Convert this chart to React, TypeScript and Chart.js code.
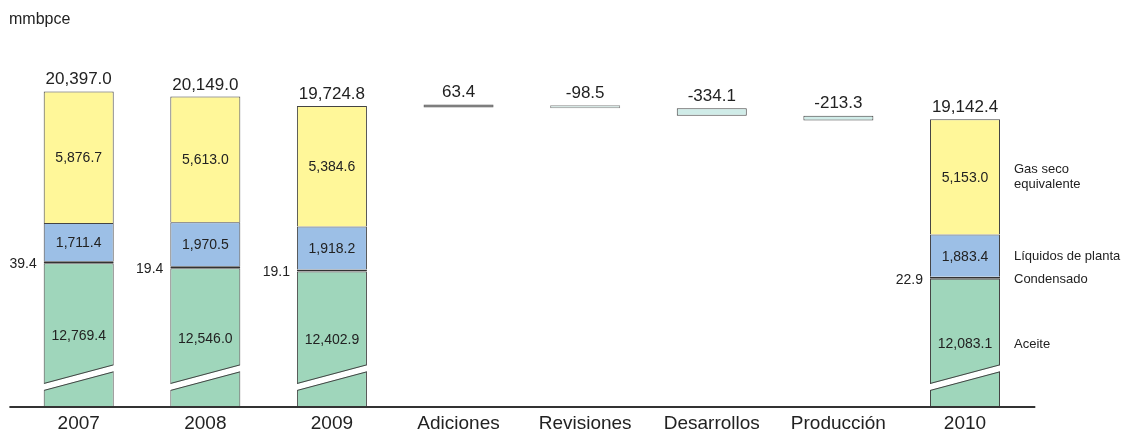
import React, { useEffect, useRef } from 'react';
import { Chart, registerables } from 'chart.js';

Chart.register(...registerables);

const FONT = '"Liberation Sans", Arial, Helvetica, sans-serif';

const categories = ['2007', '2008', '2009', 'Adiciones', 'Revisiones', 'Desarrollos', 'Producción', '2010'];
const aceite = [12769.4, 12546.0, 12402.9, null, null, null, null, 12083.1];
const condensado = [39.4, 19.4, 19.1, null, null, null, null, 22.9];
const liquidos = [1711.4, 1970.5, 1918.2, null, null, null, null, 1883.4];
const gasSeco = [5876.7, 5613.0, 5384.6, null, null, null, null, 5153.0];
const totals = [20397.0, 20149.0, 19724.8, null, null, null, null, 19142.4];
const changes = [null, null, null, 63.4, -98.5, -334.1, -213.3, null];
const seriesNames = ['Aceite', 'Condensado', 'Líquidos de planta', 'Gas seco equivalente'];
const legendGasLines = ['Gas seco', 'equivalente'];
const unitLabel = 'mmbpce';

// floating bars for the variations, starting from the 2009 total
const startTotal = totals[2] as number;
const floating: ([number, number] | null)[] = (() => {
  let acc = startTotal;
  return changes.map((c) => {
    if (c == null) return null;
    const s = acc;
    acc = acc + c;
    return [s, acc];
  });
})();

const fmt = (v: number) =>
  v.toLocaleString('en-US', { minimumFractionDigits: 1, maximumFractionDigits: 1 });

const COLORS = {
  aceite: '#9fd6bb',
  condensado: '#333333',
  liquidos: '#9cbfe6',
  gas: '#fff799',
  border: '#444444',
  text: '#222222',
};
const wfFill = ['#555555', '#d3e8e4', '#d0ece8', '#d0ece8'];
const wfBorder = ['#555555', '#8a8a8a', '#444444', '#444444'];

const drawPlugin = {
  id: 'customDraw',
  afterDatasetsDraw(chart: any) {
    const { ctx, chartArea } = chart;
    const bottom = chartArea.bottom;
    ctx.save();

    // unit label
    ctx.fillStyle = COLORS.text;
    ctx.font = `16px ${FONT}`;
    ctx.textAlign = 'left';
    ctx.textBaseline = 'alphabetic';
    ctx.fillText(unitLabel, 9, 24);

    const metaWf = chart.getDatasetMeta(0);
    const metaAceite = chart.getDatasetMeta(1);
    const metaCond = chart.getDatasetMeta(2);
    const metaLiq = chart.getDatasetMeta(3);
    const metaGas = chart.getDatasetMeta(4);

    // axis break bands
    metaAceite.data.forEach((el: any, i: number) => {
      if (aceite[i] == null) return;
      const L = el.x - el.width / 2;
      const R = el.x + el.width / 2;
      const lo = (x: number) => bottom - (17 + (35.7 - 17) * (x - L) / (R - L));
      const up = (x: number) => bottom - (23 + (41.7 - 23) * (x - L) / (R - L));
      const x0 = L - 1.5, x1 = R + 2;
      ctx.fillStyle = '#ffffff';
      ctx.beginPath();
      ctx.moveTo(x0, lo(x0));
      ctx.lineTo(x1, lo(x1));
      ctx.lineTo(x1, up(x1));
      ctx.lineTo(x0, up(x0));
      ctx.closePath();
      ctx.fill();
      ctx.strokeStyle = COLORS.border;
      ctx.lineWidth = 1;
      ctx.beginPath();
      ctx.moveTo(L + 0.5, lo(L + 0.5) + 0.5);
      ctx.lineTo(R - 0.5, lo(R - 0.5) + 0.5);
      ctx.moveTo(L + 0.5, up(L + 0.5) - 0.5);
      ctx.lineTo(R - 0.5, up(R - 0.5) - 0.5);
      ctx.stroke();
    });

    // axis line
    ctx.strokeStyle = '#333333';
    ctx.lineWidth = 2;
    ctx.beginPath();
    ctx.moveTo(chartArea.left - 6, bottom);
    ctx.lineTo(chartArea.right + 7, bottom);
    ctx.stroke();

    // inner segment labels
    ctx.fillStyle = COLORS.text;
    ctx.font = `14px ${FONT}`;
    ctx.textAlign = 'center';
    const inner = (meta: any, values: (number | null)[]) => {
      meta.data.forEach((el: any, i: number) => {
        const v = values[i];
        if (v == null) return;
        const top = Math.min(el.y, el.base);
        const bot = Math.min(Math.max(el.y, el.base), bottom);
        const cy = (top + bot) / 2;
        ctx.fillText(fmt(v), el.x, cy + 5);
      });
    };
    inner(metaAceite, aceite);
    inner(metaLiq, liquidos);
    inner(metaGas, gasSeco);

    // condensado labels on the left
    ctx.textAlign = 'right';
    metaCond.data.forEach((el: any, i: number) => {
      const v = condensado[i];
      if (v == null) return;
      const cy = el.base;
      ctx.fillText(fmt(v), el.x - el.width / 2 - 7, cy + 5);
    });

    // totals on top
    ctx.font = `17px ${FONT}`;
    ctx.textAlign = 'center';
    metaGas.data.forEach((el: any, i: number) => {
      const t = totals[i];
      if (t == null) return;
      ctx.fillText(fmt(t), el.x, Math.min(el.y, el.base) - 7);
    });
    metaWf.data.forEach((el: any, i: number) => {
      const c = changes[i];
      if (c == null) return;
      ctx.fillText(fmt(c), el.x, Math.min(el.y, el.base) - 7.5);
    });

    // series names beside last bar
    const last = categories.length - 1;
    ctx.font = `13px ${FONT}`;
    ctx.textAlign = 'left';
    const gEl = metaGas.data[last];
    const lEl = metaLiq.data[last];
    const cEl = metaCond.data[last];
    const aEl = metaAceite.data[last];
    const lx = gEl.x + gEl.width / 2 + 14;
    const gc = (gEl.y + gEl.base) / 2;
    ctx.fillText(legendGasLines[0], lx, gc - 4);
    ctx.fillText(legendGasLines[1], lx, gc + 11);
    ctx.fillText(seriesNames[2], lx, (lEl.y + lEl.base) / 2 + 4.7);
    ctx.fillText(seriesNames[1], lx, cEl.base + 4.2);
    const at = Math.min(aEl.y, aEl.base);
    ctx.fillText(seriesNames[0], lx, (at + bottom) / 2 + 4.7);

    ctx.restore();
  },
};

export default function App() {
  const ref = useRef<HTMLCanvasElement>(null);
  useEffect(() => {
    document.body.style.margin = '0';
    const canvas = ref.current!;
    const common = { borderWidth: 1, clip: 0, barPercentage: 0.553, categoryPercentage: 1 };
    const wfIdx = (i: number) => i - 3;
    const chart = new Chart(canvas, {
      type: 'bar',
      data: {
        labels: categories,
        datasets: [
          {
            label: 'Variación',
            data: floating as any,
            backgroundColor: categories.map((_, i) => (changes[i] != null ? wfFill[wfIdx(i)] : '#000')),
            borderColor: categories.map((_, i) => (changes[i] != null ? wfBorder[wfIdx(i)] : '#000')),
            borderSkipped: false,
            minBarLength: 3,
            ...common,
          } as any,
          { label: seriesNames[0], data: aceite, backgroundColor: COLORS.aceite, borderColor: COLORS.border, borderSkipped: 'bottom', ...common } as any,
          { label: seriesNames[1], data: condensado, backgroundColor: COLORS.condensado, borderColor: '#333333', borderSkipped: false, minBarLength: 2, ...common } as any,
          { label: seriesNames[2], data: liquidos, backgroundColor: COLORS.liquidos, borderColor: COLORS.border, borderSkipped: 'bottom', ...common } as any,
          { label: seriesNames[3], data: gasSeco, backgroundColor: COLORS.gas, borderColor: COLORS.border, borderSkipped: 'bottom', ...common } as any,
        ],
      },
      options: {
        responsive: false,
        animation: false,
        layout: { padding: { left: 15.4, right: 98.7, top: 60, bottom: 0 } },
        plugins: { legend: { display: false }, tooltip: { enabled: false }, title: { display: false } },
        scales: {
          x: {
            stacked: true,
            grid: { display: false, drawTicks: false },
            border: { display: false },
            ticks: { color: COLORS.text, font: { size: 19, family: FONT }, padding: 5, maxRotation: 0, autoSkip: false },
            afterFit: (scale: any) => { scale.height = 25; },
          },
          y: {
            stacked: true,
            display: false,
            min: 6350,
            max: 21850,
          },
        },
      },
      plugins: [drawPlugin],
    } as any);
    return () => chart.destroy();
  }, []);
  return (
    <div style={{ width: 1127, height: 432 }}>
      <canvas ref={ref} width={1127} height={432} style={{ display: 'block' }} />
    </div>
  );
}
